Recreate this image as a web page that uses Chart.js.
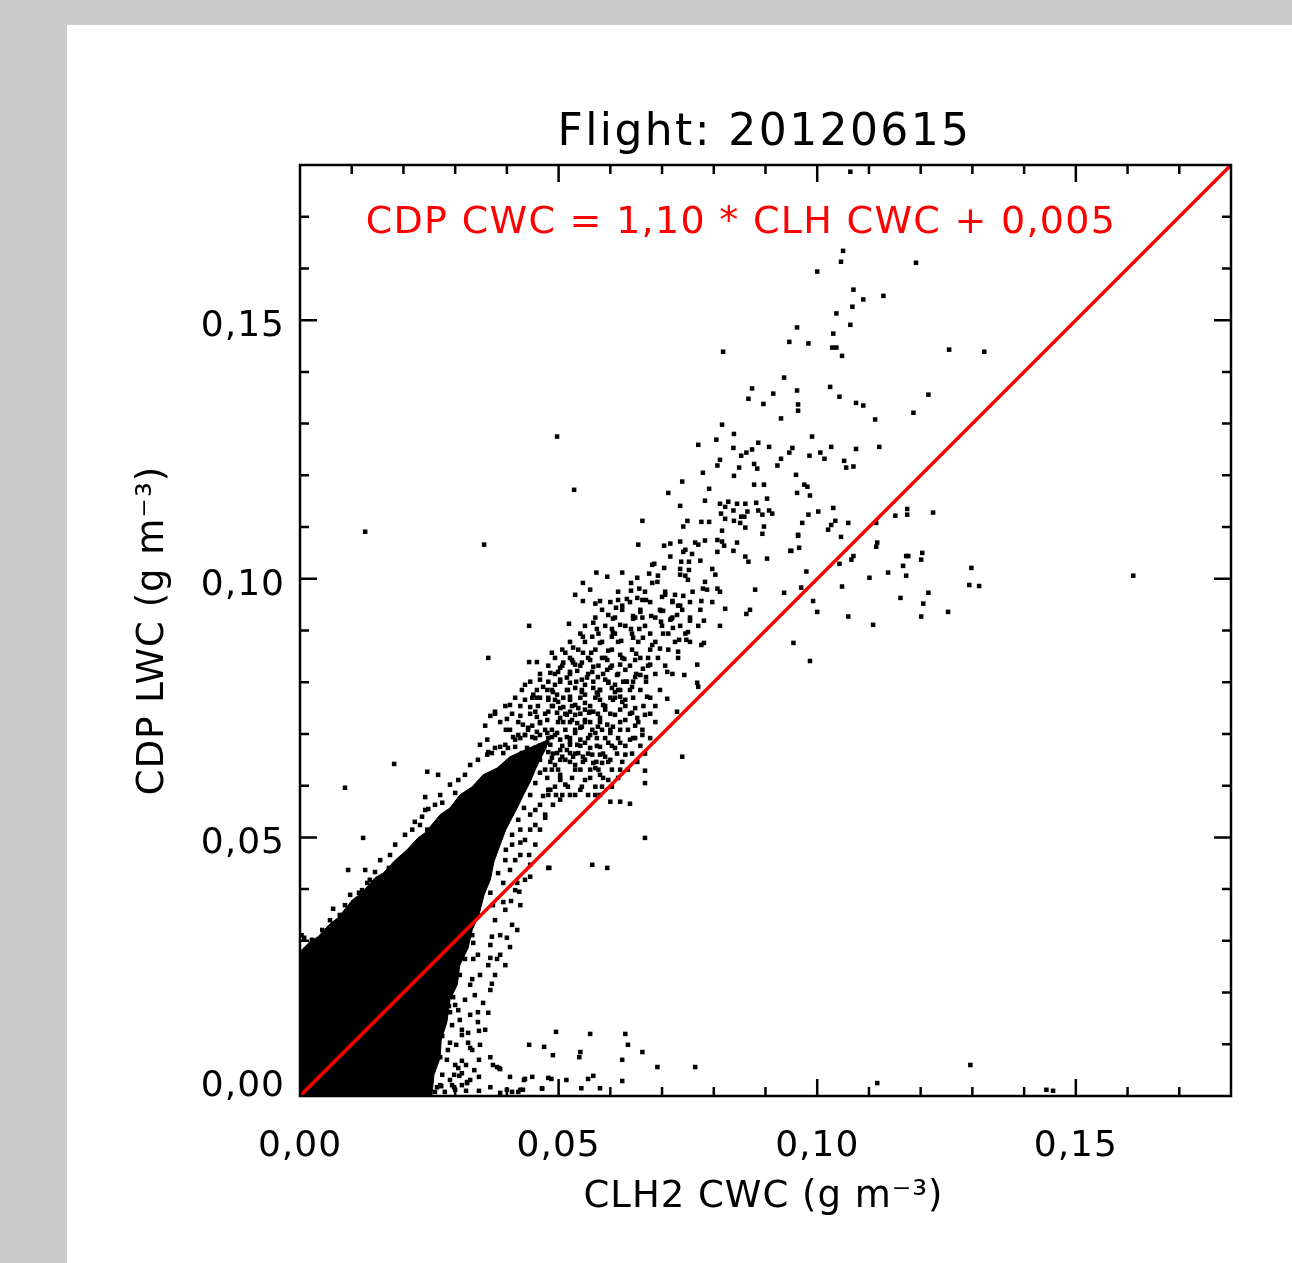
<!DOCTYPE html>
<html>
<head>
<meta charset="utf-8">
<title>Flight: 20120615</title>
<script src="https://cdn.jsdelivr.net/npm/chart.js@4.4.1/dist/chart.umd.min.js"></script>
<style>
  html, body { margin: 0; padding: 0; background: #cccccc; width: 1292px; height: 1263px; overflow: hidden; }
  #panel { position: absolute; left: 67px; top: 25px; width: 1225px; height: 1238px; background: #ffffff; }
  canvas { display: block; }
</style>
</head>
<body>
<div id="panel"><canvas id="cwcChart" width="1225" height="1238"></canvas></div>
<script>
const flightTitle = 'Flight: 20120615';
const xTitle = 'CLH2 CWC (g m\u207B\u00B3)';
const yTitle = 'CDP LWC (g m\u207B\u00B3)';
const fitText = 'CDP CWC = 1,10 * CLH CWC + 0,005';
const tickValues = [0, 0.05, 0.10, 0.15];
const tickLabels = ['0,00', '0,05', '0,10', '0,15'];

// 1:1 reference line
const oneToOne = [[0, 0], [0.18, 0.18]];

// the saturated core of the cloud near the origin, as a band between two edges
const coreUpper = [[0,0.0279],[0.0019,0.0298],[0.0035,0.0308],[0.0058,0.0333],[0.0073,0.0344],[0.0101,0.0379],
  [0.0120,0.0393],[0.0145,0.0422],[0.0161,0.0431],[0.0184,0.0456],[0.0207,0.0476],[0.0228,0.0499],[0.0242,0.0509],
  [0.0271,0.0544],[0.0290,0.0557],[0.0309,0.0582],[0.0333,0.0598],[0.0354,0.0621],[0.0381,0.0634],[0.0406,0.0656],
  [0.0435,0.0669],[0.0480,0.0689]];
const coreLower = [[0,0],[0.0255,0],[0.0259,0.0041],[0.0271,0.0074],[0.0273,0.0108],[0.0284,0.0143],[0.0290,0.0186],
  [0.0304,0.0215],[0.0309,0.0253],[0.0325,0.0286],[0.0333,0.0321],[0.0346,0.0350],[0.0356,0.0389],[0.0368,0.0418],
  [0.0375,0.0453],[0.0387,0.0486],[0.0398,0.0515],[0.0410,0.0538],[0.0422,0.0561],[0.0433,0.0584],[0.0445,0.0607],
  [0.0455,0.0631],[0.0464,0.0650],[0.0476,0.0673],[0.0480,0.0689]];

// individual samples [CLH2 CWC, CDP LWC]
const samples = [
  // upper branch
  [0.1050,0.1634],[0.1046,0.1613],[0.1000,0.1594],[0.1191,0.1611],[0.1070,0.1559],[0.1089,0.1540],[0.1128,0.1547],
  [0.1068,0.1526],[0.1037,0.1513],[0.1064,0.1491],[0.0961,0.1486],[0.1031,0.1474],[0.0946,0.1458],[0.0983,0.1455],
  [0.1029,0.1447],[0.1037,0.1447],[0.1048,0.1431],[0.0818,0.1439],[0.1255,0.1443],[0.1323,0.1439],[0.0936,0.1389],
  [0.0874,0.1368],[0.0867,0.1348],[0.0915,0.1358],[0.0896,0.1338],[0.0961,0.1364],[0.0963,0.1337],[0.0963,0.1325],
  [0.1025,0.1371],[0.1043,0.1352],[0.1075,0.1340],[0.1089,0.1335],[0.1215,0.1356],[0.1186,0.1321],[0.0930,0.1310],
  [0.1112,0.1308],[0.0816,0.1298],[0.1064,0.1787],
  [0.0839,0.1280],[0.0805,0.1269],[0.0770,0.1259],[0.0838,0.1253],[0.0886,0.1263],[0.0907,0.1255],[0.0874,0.1250],
  [0.0863,0.1244],[0.0853,0.1238],[0.0952,0.1253],[0.0946,0.1244],[0.0990,0.1275],[0.1006,0.1244],[0.1027,0.1255],
  [0.0985,0.1238],[0.1014,0.1232],[0.1075,0.1251],[0.1120,0.1255],[0.0812,0.1230],[0.0930,0.1232],[0.0923,0.1219],
  [0.0878,0.1222],[0.0884,0.1213],[0.0807,0.1219],[0.0849,0.1215],[0.1052,0.1228],[0.1056,0.1215],[0.1070,0.1217],
  [0.0779,0.1205],[0.0839,0.1199],[0.0959,0.1201],[0.0739,0.1188],[0.0878,0.1182],[0.0897,0.1182],[0.0975,0.1182],
  [0.0981,0.1178],[0.0791,0.1174],[0.0712,0.1166],[0.0961,0.1166],[0.0986,0.1161],[0.0903,0.1155],[0.0783,0.1151],
  [0.0882,0.1147],[0.0812,0.1145],[0.0822,0.1139],[0.0828,0.1149],[0.0845,0.1145],[0.0861,0.1145],[0.0735,0.1141],
  [0.0838,0.1132],[0.0865,0.1130],[0.0886,0.1132],[0.0894,0.1124],[0.0907,0.1132],[0.0913,0.1126],[0.0814,0.1126],
  [0.0822,0.1116],[0.0853,0.1120],[0.0859,0.1120],[0.1031,0.1137],[0.1002,0.1130],[0.0983,0.1124],[0.1151,0.1122],
  [0.1174,0.1135],[0.1174,0.1124],[0.1224,0.1128],[0.0662,0.1112],[0.0749,0.1112],[0.0776,0.1110],[0.0791,0.1110],
  [0.0839,0.1112],[0.0851,0.1108],[0.0741,0.1101],[0.0816,0.1093],[0.0861,0.1099],[0.0897,0.1101],[0.0894,0.1087],
  [0.0971,0.1108],[0.1035,0.1112],[0.1027,0.1104],[0.1021,0.1095],[0.1060,0.1108],[0.1046,0.1081],[0.1114,0.1108],
  [0.0963,0.1085],[0.0654,0.1066],[0.0704,0.1064],[0.0716,0.1068],[0.0735,0.1072],[0.0745,0.1056],[0.0741,0.1052],
  [0.0764,0.1070],[0.0770,0.1066],[0.0783,0.1074],[0.0807,0.1075],[0.0816,0.1072],[0.0820,0.1064],[0.0845,0.1070],
  [0.0807,0.1052],[0.0838,0.1054],[0.0758,0.1048],[0.0948,0.1054],[0.0965,0.1060],[0.0861,0.1043],[0.0867,0.1033],
  [0.0903,0.1039],[0.1116,0.1070],[0.1114,0.1062],[0.1070,0.1044],[0.1066,0.1037],[0.1043,0.1029],[0.0716,0.1043],
  [0.0774,0.1035],[0.0737,0.1033],[0.0752,0.1033],[0.0681,0.1027],[0.0685,0.1029],[0.0704,0.1021],[0.0735,0.1019],
  [0.0752,0.1017],[0.0797,0.1019],[0.0594,0.1004],[0.0623,0.1012],[0.0652,0.1002],[0.0675,0.1010],[0.0692,0.1006],
  [0.0735,0.1008],[0.0750,0.0998],[0.0745,0.1006],[0.0803,0.1008],[0.0681,0.0992],[0.0691,0.0994],[0.0783,0.0994],
  [0.0640,0.0992],[0.0979,0.1014],[0.1101,0.1002],[0.1137,0.1012],[0.1172,0.1044],[0.1176,0.1044],[0.1203,0.1050],
  [0.1201,0.1037],[0.1166,0.1025],[0.1172,0.1006],[0.0656,0.0981],[0.0640,0.0977],[0.0779,0.0981],[0.0787,0.0979],
  [0.0807,0.0981],[0.0880,0.0979],[0.0969,0.0983],[0.0936,0.0973],[0.1048,0.0985],[0.1215,0.0973],[0.1161,0.0963],
  [0.1205,0.0952],[0.0992,0.0957],[0.1000,0.0936],[0.1060,0.0927],[0.1108,0.0911],[0.1201,0.0927],[0.1253,0.0936],
  [0.0822,0.0942],[0.0863,0.0932],[0.0870,0.0940],[0.0812,0.0909],[0.0776,0.0957],[0.0580,0.0957],[0.0615,0.0959],
  [0.0632,0.0961],[0.0652,0.0963],[0.0662,0.0959],[0.0669,0.0959],[0.0700,0.0965],[0.0706,0.0969],[0.0725,0.0969],
  [0.0720,0.0957],[0.0741,0.0967],[0.0731,0.0948],[0.0735,0.0948],[0.0702,0.0938],[0.0698,0.0938],[0.0716,0.0921],
  [0.0718,0.0923],[0.0729,0.0930],[0.0754,0.0919],[0.0781,0.0919],[0.0721,0.0905],[0.0750,0.0897],[0.0702,0.0894],
  [0.0733,0.0882],[0.0747,0.0882],[0.0776,0.0872],[0.0781,0.0876],[0.0731,0.0859],[0.0768,0.0834],[0.0710,0.0820],
  [0.0743,0.0814],[0.0954,0.0876],[0.0986,0.0841],[0.0611,0.0944],[0.0623,0.0948],[0.0596,0.0930],[0.0605,0.0923],
  [0.0644,0.0928],[0.0644,0.0923],[0.0658,0.0936],[0.0662,0.0925],[0.0679,0.0928],[0.0698,0.0917],[0.0603,0.0903],
  [0.0619,0.0911],[0.0640,0.0903],[0.0656,0.0903],[0.0644,0.0886],[0.0663,0.0886],[0.0621,0.0880],[0.0603,0.0888],
  [0.0605,0.0896],[0.0681,0.0872],[0.0696,0.0865],[0.0673,0.0847],[0.0650,0.0855],[0.0627,0.0845],[0.0619,0.0834],
  [0.0594,0.0843],[0.0596,0.0861],[0.0580,0.0876],[0.0663,0.0826],[0.0648,0.0810],[0.0669,0.0810],[0.0594,0.0824],
  [0.0613,0.0814],
  [0.0963,0.1083],[0.0950,0.1054],[0.1294,0.0988],[0.1313,0.0986],[0.1298,0.1021],[0.1611,0.1006],
  // middle of the cloud
  [0.0547,0.0957],[0.0571,0.0952],[0.0567,0.0915],[0.0574,0.0903],[0.0520,0.0913],[0.0443,0.0909],[0.0547,0.0888],
  [0.0565,0.0888],[0.0528,0.0867],[0.0487,0.0857],[0.0513,0.0857],[0.0547,0.0857],[0.0563,0.0857],[0.0364,0.0847],
  [0.0443,0.0839],[0.0458,0.0839],[0.0509,0.0838],[0.0526,0.0843],[0.0528,0.0838],[0.0545,0.0838],[0.0567,0.0830],
  [0.0484,0.0818],[0.0499,0.0820],[0.0522,0.0820],[0.0536,0.0822],[0.0503,0.0805],[0.0516,0.0809],[0.0545,0.0805],
  [0.0555,0.0809],[0.0565,0.0820],[0.0576,0.0810],[0.0590,0.0805],[0.0596,0.0799],[0.0625,0.0801],[0.0632,0.0801],
  [0.0644,0.0801],[0.0768,0.0799],[0.0770,0.0791],[0.0470,0.0791],[0.0478,0.0785],[0.0489,0.0781],[0.0497,0.0776],
  [0.0516,0.0785],[0.0522,0.0772],[0.0532,0.0789],[0.0545,0.0781],[0.0551,0.0776],[0.0567,0.0789],[0.0574,0.0780],
  [0.0603,0.0789],[0.0609,0.0781],[0.0615,0.0785],[0.0619,0.0772],[0.0623,0.0762],[0.0605,0.0766],[0.0642,0.0791],
  [0.0671,0.0772],[0.0687,0.0754],[0.0710,0.0768],[0.0729,0.0743],[0.0652,0.0731],[0.0642,0.0741],[0.0619,0.0747],
  [0.0590,0.0747],[0.0580,0.0766],[0.0586,0.0756],[0.0451,0.0776],[0.0458,0.0770],[0.0445,0.0752],[0.0480,0.0766],
  [0.0489,0.0754],[0.0499,0.0762],[0.0509,0.0752],[0.0522,0.0743],[0.0532,0.0756],[0.0538,0.0750],[0.0551,0.0747],
  [0.0559,0.0741],[0.0567,0.0743],[0.0377,0.0743],[0.0368,0.0735],[0.0400,0.0729],[0.0458,0.0733],[0.0464,0.0721],
  [0.0478,0.0727],[0.0497,0.0741],[0.0503,0.0731],[0.0509,0.0723],[0.0516,0.0737],[0.0526,0.0727],[0.0536,0.0721],
  [0.0545,0.0714],[0.0551,0.0727],[0.0561,0.0723],[0.0576,0.0714],[0.0584,0.0708],[0.0594,0.0718],[0.0605,0.0714],
  [0.0648,0.0716],[0.0662,0.0698],[0.0644,0.0692],[0.0358,0.0716],[0.0398,0.0708],[0.0412,0.0694],[0.0422,0.0698],
  [0.0431,0.0718],[0.0441,0.0712],[0.0449,0.0716],[0.0435,0.0698],[0.0449,0.0694],[0.0458,0.0704],[0.0464,0.0698],
  [0.0478,0.0702],[0.0487,0.0694],[0.0497,0.0702],[0.0503,0.0689],[0.0516,0.0694],[0.0522,0.0685],[0.0532,0.0702],
  [0.0536,0.0679],[0.0542,0.0689],[0.0551,0.0683],[0.0561,0.0698],[0.0574,0.0692],[0.0580,0.0675],[0.0596,0.0683],
  [0.0619,0.0683],[0.0348,0.0679],[0.0362,0.0689],[0.0362,0.0660],[0.0371,0.0663],[0.0387,0.0675],[0.0393,0.0663],
  [0.0402,0.0673],[0.0416,0.0675],[0.0420,0.0656],[0.0429,0.0663],[0.0439,0.0673],[0.0445,0.0656],[0.0455,0.0673],
  [0.0460,0.0656],[0.0468,0.0669],[0.0478,0.0683],[0.0480,0.0665],[0.0487,0.0654],[0.0497,0.0663],[0.0507,0.0656],
  [0.0516,0.0669],[0.0522,0.0663],[0.0528,0.0656],[0.0538,0.0663],[0.0547,0.0656],[0.0565,0.0660],[0.0567,0.0644],
  [0.0584,0.0644],[0.0590,0.0656],[0.0613,0.0662],[0.0739,0.0656],[0.0667,0.0629],[0.0667,0.0605],[0.0584,0.0598],
  [0.0600,0.0569],[0.0619,0.0569],[0.0638,0.0565],[0.0667,0.0499],[0.0565,0.0447],[0.0594,0.0441],[0.0480,0.0441],
  [0.0445,0.0424],[0.0246,0.0627],[0.0267,0.0621],[0.0300,0.0586],[0.0304,0.0567],[0.0242,0.0578],[0.0275,0.0567],
  [0.0248,0.0555],[0.0236,0.0540],[0.0277,0.0528],[0.0222,0.0530],[0.0246,0.0515],[0.0257,0.0515],
  [0.0487,0.0631],[0.0503,0.0621],[0.0513,0.0602],[0.0532,0.0631],[0.0551,0.0611],[0.0480,0.0592],[0.0495,0.0582],
  [0.0522,0.0582],[0.0464,0.0563],[0.0445,0.0544],[0.0426,0.0515],[0.0435,0.0495],[0.0455,0.0524],[0.0561,0.0631],
  [0.0542,0.0592],[0.0410,0.0486],[0.0397,0.0456],[0.0474,0.0538],[0.0503,0.0573],[0.0571,0.0582],[0.0596,0.0611],
  [0.0619,0.0631],[0.0503,0.0650],[0.0580,0.0621],
  [0.0464,0.0650],[0.0493,0.0640],[0.0513,0.0650],[0.0532,0.0640],[0.0551,0.0650],[0.0571,0.0634],[0.0484,0.0679],
  [0.0503,0.0669],[0.0522,0.0679],[0.0561,0.0673],[0.0580,0.0660],[0.0600,0.0650],[0.0609,0.0673],[0.0629,0.0660],
  [0.0638,0.0689],[0.0474,0.0708],[0.0493,0.0698],[0.0513,0.0708],[0.0542,0.0712],[0.0571,0.0702],[0.0600,0.0702],
  [0.0619,0.0708],[0.0629,0.0727],[0.0609,0.0737],[0.0580,0.0731],[0.0561,0.0743],[0.0532,0.0737],[0.0503,0.0750],
  [0.0480,0.0743],[0.0455,0.0743],[0.0426,0.0735],[0.0406,0.0756],[0.0435,0.0766],[0.0464,0.0770],[0.0493,0.0766],
  [0.0522,0.0766],[0.0551,0.0760],[0.0576,0.0776],[0.0600,0.0770],[0.0629,0.0766],[0.0648,0.0750],[0.0667,0.0737],
  [0.0638,0.0785],[0.0609,0.0795],[0.0580,0.0785],[0.0551,0.0795],[0.0522,0.0799],[0.0493,0.0795],[0.0464,0.0805],
  [0.0435,0.0795],[0.0503,0.0828],[0.0532,0.0834],[0.0561,0.0843],[0.0590,0.0847],[0.0619,0.0853],[0.0648,0.0843],
  [0.0677,0.0834],[0.0658,0.0814],[0.0629,0.0824],[0.0600,0.0828],
  // dense mottled band above the core
  [0.0480,0.0582],[0.0507,0.0582],[0.0532,0.0582],[0.0557,0.0582],[0.0580,0.0582],
  [0.0493,0.0598],[0.0518,0.0598],[0.0545,0.0598],[0.0571,0.0598],[0.0603,0.0598],
  [0.0478,0.0615],[0.0503,0.0615],[0.0526,0.0615],[0.0561,0.0615],[0.0586,0.0615],[0.0615,0.0615],
  [0.0474,0.0631],[0.0499,0.0631],[0.0542,0.0631],[0.0577,0.0631],[0.0603,0.0631],[0.0634,0.0631],
  [0.0484,0.0646],[0.0522,0.0646],[0.0547,0.0646],[0.0573,0.0646],[0.0596,0.0646],[0.0623,0.0646],[0.0652,0.0646],
  [0.0489,0.0662],[0.0532,0.0662],[0.0557,0.0662],[0.0586,0.0662],[0.0642,0.0662],[0.0667,0.0662],
  [0.0464,0.0677],[0.0507,0.0677],[0.0542,0.0677],[0.0574,0.0677],[0.0603,0.0677],[0.0629,0.0677],[0.0658,0.0677],
  [0.0426,0.0692],[0.0455,0.0692],[0.0480,0.0692],[0.0522,0.0692],[0.0557,0.0692],[0.0590,0.0692],[0.0615,0.0692],
  [0.0648,0.0692],[0.0677,0.0692],
  [0.0406,0.0708],[0.0441,0.0708],[0.0487,0.0708],[0.0532,0.0708],[0.0565,0.0708],[0.0600,0.0708],[0.0634,0.0708],
  [0.0662,0.0708],
  [0.0387,0.0723],[0.0422,0.0723],[0.0464,0.0723],[0.0499,0.0723],[0.0522,0.0723],[0.0551,0.0723],[0.0580,0.0723],
  [0.0619,0.0723],[0.0654,0.0723],[0.0687,0.0723],
  [0.0377,0.0739],[0.0410,0.0739],[0.0445,0.0739],[0.0474,0.0739],[0.0513,0.0739],[0.0542,0.0739],[0.0576,0.0739],
  [0.0600,0.0739],[0.0638,0.0739],[0.0677,0.0739],
  [0.0397,0.0754],[0.0426,0.0754],[0.0460,0.0754],[0.0487,0.0754],[0.0526,0.0754],[0.0561,0.0754],[0.0590,0.0754],
  [0.0629,0.0754],[0.0664,0.0754],
  [0.0416,0.0770],[0.0449,0.0770],[0.0480,0.0770],[0.0509,0.0770],[0.0542,0.0770],[0.0571,0.0770],[0.0609,0.0770],
  [0.0644,0.0770],[0.0677,0.0770],
  [0.0429,0.0785],[0.0458,0.0785],[0.0487,0.0785],[0.0518,0.0785],[0.0545,0.0785],[0.0580,0.0785],[0.0619,0.0785],
  [0.0658,0.0785],[0.0696,0.0785],
  [0.0445,0.0801],[0.0480,0.0801],[0.0503,0.0801],[0.0534,0.0801],[0.0567,0.0801],[0.0596,0.0801],[0.0631,0.0801],
  [0.0669,0.0801],
  [0.0464,0.0816],[0.0493,0.0816],[0.0522,0.0816],[0.0557,0.0816],[0.0586,0.0816],[0.0615,0.0816],[0.0650,0.0816],
  [0.0687,0.0816],[0.0720,0.0816],
  [0.0480,0.0832],[0.0507,0.0832],[0.0542,0.0832],[0.0577,0.0832],[0.0603,0.0832],[0.0638,0.0832],[0.0673,0.0832],
  [0.0706,0.0832],
  [0.0493,0.0847],[0.0522,0.0847],[0.0557,0.0847],[0.0584,0.0847],[0.0623,0.0847],[0.0658,0.0847],[0.0692,0.0847],
  [0.0731,0.0847],
  [0.0507,0.0863],[0.0538,0.0863],[0.0571,0.0863],[0.0603,0.0863],[0.0642,0.0863],[0.0677,0.0863],[0.0712,0.0863],
  [0.0522,0.0878],[0.0551,0.0878],[0.0584,0.0878],[0.0615,0.0878],[0.0654,0.0878],[0.0687,0.0878],[0.0725,0.0878],
  [0.0754,0.0878],
  [0.0542,0.0894],[0.0577,0.0894],[0.0609,0.0894],[0.0642,0.0894],[0.0677,0.0894],[0.0712,0.0894],[0.0745,0.0894],
  [0.0551,0.0909],[0.0590,0.0909],[0.0629,0.0909],[0.0667,0.0909],[0.0700,0.0909],[0.0735,0.0909],[0.0770,0.0909],
  [0.0571,0.0925],[0.0609,0.0925],[0.0648,0.0925],[0.0687,0.0925],[0.0720,0.0925],[0.0754,0.0925],
  [0.0584,0.0940],[0.0623,0.0940],[0.0658,0.0940],[0.0696,0.0940],[0.0739,0.0940],[0.0774,0.0940],
  [0.0600,0.0955],[0.0638,0.0955],[0.0677,0.0955],[0.0720,0.0955],[0.0754,0.0955],[0.0797,0.0955],
  [0.0615,0.0975],[0.0667,0.0975],[0.0706,0.0975],[0.0759,0.0975],[0.0812,0.0975],
  // lower edge of the core
  [0.0443,0.0466],[0.0482,0.0441],[0.0383,0.0431],[0.0424,0.0395],[0.0408,0.0377],[0.0393,0.0375],[0.0368,0.0393],
  [0.0373,0.0369],[0.0393,0.0412],[0.0420,0.0412],[0.0342,0.0402],[0.0333,0.0377],[0.0315,0.0393],[0.0420,0.0321],
  [0.0371,0.0308],[0.0400,0.0306],[0.0406,0.0288],[0.0335,0.0296],[0.0323,0.0315],[0.0333,0.0311],[0.0315,0.0286],
  [0.0368,0.0267],[0.0381,0.0265],[0.0335,0.0265],[0.0319,0.0265],[0.0333,0.0226],[0.0309,0.0234],[0.0371,0.0217],
  [0.0290,0.0199],[0.0296,0.0191],[0.0284,0.0191],[0.0277,0.0211],[0.0250,0.0201],[0.0265,0.0180],[0.0277,0.0191],
  [0.0288,0.0174],[0.0364,0.0161],[0.0257,0.0166],[0.0248,0.0124],[0.0275,0.0116],[0.0325,0.0122],[0.0346,0.0126],
  [0.0226,0.0133],[0.0242,0.0103],[0.0257,0.0099],[0.0290,0.0103],[0.0325,0.0103],[0.0226,0.0081],[0.0265,0.0079],
  [0.0284,0.0070],[0.0313,0.0068],[0.0346,0.0070],[0.0381,0.0056],[0.0406,0.0037],[0.0435,0.0033],[0.0449,0.0037],
  [0.0480,0.0035],[0.0368,0.0075],[0.0385,0.0054],[0.0323,0.0027],[0.0290,0.0031],[0.0246,0.0044],[0.0265,0.0017],
  [0.0213,0.0031],[0.0368,0.0017],[0.0400,0.0012],[0.0426,0.0012],[0.0431,0.0012],[0.0468,0.0015],
  [0.0300,0.0012],[0.0313,0.0021],[0.0329,0.0031],[0.0306,0.0054],[0.0321,0.0060],[0.0337,0.0050],[0.0286,0.0089],
  [0.0302,0.0099],[0.0313,0.0118],[0.0333,0.0089],[0.0348,0.0099],[0.0294,0.0137],[0.0309,0.0147],[0.0329,0.0157],
  [0.0344,0.0143],[0.0358,0.0128],[0.0300,0.0176],[0.0319,0.0186],[0.0338,0.0195],[0.0354,0.0180],[0.0368,0.0205],
  [0.0329,0.0215],[0.0348,0.0234],[0.0364,0.0253],[0.0377,0.0234],[0.0387,0.0273],[0.0397,0.0253],[0.0344,0.0273],
  [0.0368,0.0292],[0.0387,0.0311],[0.0410,0.0331],[0.0377,0.0340],[0.0397,0.0360],[0.0426,0.0369],[0.0416,0.0398],
  [0.0435,0.0418],[0.0406,0.0437],[0.0445,0.0447],[0.0426,0.0466],[0.0455,0.0486],[0.0464,0.0515],[0.0474,0.0544],
  [0.0489,0.0563],[0.0484,0.0592],[0.0503,0.0611],
  [0.0398,0.0476],[0.0410,0.0505],[0.0422,0.0534],[0.0433,0.0557],[0.0445,0.0582],[0.0455,0.0605],[0.0464,0.0625],
  [0.0416,0.0456],[0.0426,0.0490],[0.0445,0.0515],[0.0455,0.0553],[0.0470,0.0580],
  [0.0242,0.0008],[0.0261,0.0008],[0.0280,0.0008],[0.0248,0.0021],[0.0271,0.0021],[0.0294,0.0021],[0.0251,0.0041],
  [0.0275,0.0041],[0.0255,0.0060],[0.0300,0.0060],[0.0267,0.0093],[0.0329,0.0093],[0.0271,0.0128],[0.0313,0.0128],
  [0.0290,0.0162],[0.0344,0.0162],
  // CDP near zero
  [0.0306,0.0166],[0.0495,0.0124],[0.0561,0.0120],[0.0629,0.0120],[0.0240,0.0101],[0.0443,0.0099],[0.0472,0.0095],
  [0.0489,0.0079],[0.0542,0.0085],[0.0540,0.0075],[0.0634,0.0099],[0.0662,0.0085],[0.0623,0.0070],[0.0691,0.0056],
  [0.0764,0.0056],[0.1296,0.0060],[0.0271,0.0075],[0.0308,0.0039],[0.0346,0.0037],[0.0387,0.0052],[0.0313,0.0044],
  [0.0298,0.0041],[0.0433,0.0031],[0.0486,0.0033],[0.0515,0.0031],[0.0557,0.0033],[0.0567,0.0039],[0.0544,0.0015],
  [0.0580,0.0015],[0.0623,0.0029],[0.0468,0.0014],[0.0422,0.0008],[0.0410,0.0008],[0.0387,0.0006],[0.0346,0.0010],
  [0.0321,0.0010],[0.0298,0.0017],[0.0273,0.0019],[0.1116,0.0025],[0.1443,0.0012],[0.1456,0.0010],[0.0323,0.0025],
  [0.0373,0.0060],
  // upper edge of the core
  [0.0093,0.0437],[0.0064,0.0362],[0.0104,0.0346],[0.0114,0.0393],[0.0103,0.0373],[0.0130,0.0412],[0.0145,0.0433],
  [0.0172,0.0441],[0.0172,0.0426],[0.0193,0.0453],[0.0077,0.0306],[0.0066,0.0298],[0.0008,0.0306],[0.0025,0.0279],
  [0.0027,0.0263],[0.0006,0.0238],[0.0023,0.0250],[0.0043,0.0232],[0.0054,0.0267],
  [0.0010,0.0282],[0.0023,0.0302],[0.0043,0.0321],[0.0003,0.0311],[0.0058,0.0340],[0.0077,0.0350],[0.0087,0.0369],
  [0.0097,0.0389],[0.0120,0.0398],[0.0135,0.0418],[0.0126,0.0437],[0.0155,0.0456],[0.0174,0.0466],[0.0184,0.0486],
  [0.0203,0.0505],[0.0217,0.0515],[0.0232,0.0524],[0.0242,0.0553],[0.0261,0.0563],[0.0271,0.0582],[0.0290,0.0602],
  [0.0306,0.0611],[0.0319,0.0621],[0.0329,0.0640],[0.0344,0.0650],[0.0364,0.0665],[0.0377,0.0673],[0.0397,0.0679],
  [0.0416,0.0689],[0.0435,0.0698],
  // isolated
  [0.0087,0.0596],[0.0182,0.0642],[0.0122,0.0499],[0.0126,0.1091],[0.0356,0.1066],[0.0497,0.1275],[0.0530,0.1172],
  [0.0532,0.0969],[0.0547,0.0992],[0.0573,0.1012],[0.0561,0.0979]
];

const toXY = pts => pts.map(([x, y]) => ({x, y}));
const FONT = '"DejaVu Sans", sans-serif';

// box with inward ticks on all four sides, tick labels and titles
const idlFrame = {
  id: 'idlFrame',
  afterDatasetsDraw(chart) {
    const {ctx, chartArea: a, scales: {x, y}} = chart;
    ctx.save();
    ctx.strokeStyle = '#000';
    ctx.lineWidth = 2.5;
    ctx.beginPath();
    for (let i = 1; i < 18; i++) {
      const len = i % 5 === 0 ? 17 : 9;
      const px = x.getPixelForValue(i / 100);
      const py = y.getPixelForValue(i / 100);
      ctx.moveTo(px, a.bottom); ctx.lineTo(px, a.bottom - len);
      ctx.moveTo(px, a.top); ctx.lineTo(px, a.top + len);
      ctx.moveTo(a.left, py); ctx.lineTo(a.left + len, py);
      ctx.moveTo(a.right, py); ctx.lineTo(a.right - len, py);
    }
    ctx.stroke();
    ctx.strokeRect(a.left, a.top, a.right - a.left, a.bottom - a.top);

    ctx.fillStyle = '#000';
    ctx.textBaseline = 'alphabetic';
    ctx.font = `36px ${FONT}`;
    ctx.letterSpacing = '1px';
    ctx.textAlign = 'center';
    tickValues.forEach((v, i) => ctx.fillText(tickLabels[i], x.getPixelForValue(v), a.bottom + 60));
    ctx.textAlign = 'right';
    tickValues.forEach((v, i) => {
      const py = y.getPixelForValue(v);
      ctx.fillText(tickLabels[i], a.left - 15, v === 0 ? py : py + 16);
    });

    const cx = (a.left + a.right) / 2;
    ctx.textAlign = 'center';
    ctx.font = `44px ${FONT}`;
    ctx.letterSpacing = '2.4px';
    ctx.fillText(flightTitle, cx - 1, a.top - 20);

    ctx.font = `37px ${FONT}`;
    ctx.letterSpacing = '1px';
    ctx.fillText(xTitle, cx - 2, a.bottom + 111);

    ctx.save();
    ctx.translate(a.left - 137, (a.top + a.bottom) / 2);
    ctx.rotate(-Math.PI / 2);
    ctx.fillText(yTitle, 0, 0);
    ctx.restore();

    ctx.fillStyle = '#ff0000';
    ctx.font = `38px ${FONT}`;
    ctx.letterSpacing = '1.3px';
    ctx.fillText(fitText, a.left + 441, a.top + 68);
    ctx.restore();
  }
};

new Chart(document.getElementById('cwcChart'), {
  type: 'scatter',
  data: {
    datasets: [
      {
        type: 'line',
        data: toXY(coreLower),
        borderColor: '#000',
        borderWidth: 1,
        pointRadius: 0,
        fill: false,
        tension: 0,
        order: 2
      },
      {
        type: 'line',
        data: toXY(coreUpper),
        borderColor: '#000',
        borderWidth: 1,
        backgroundColor: '#000',
        pointRadius: 0,
        fill: '-1',
        tension: 0,
        order: 2
      },
      {
        data: toXY(samples),
        pointStyle: 'rect',
        pointRadius: 3.2,
        pointBorderWidth: 0,
        pointBackgroundColor: '#000',
        order: 1
      },
      {
        type: 'line',
        data: toXY(oneToOne),
        borderColor: '#ff0000',
        borderWidth: 3.5,
        pointRadius: 0,
        fill: false,
        order: 0
      }
    ]
  },
  options: {
    responsive: false,
    animation: false,
    events: [],
    layout: {padding: {left: 233, top: 140, right: 61, bottom: 167}},
    scales: {
      x: {type: 'linear', min: 0, max: 0.18, display: false},
      y: {type: 'linear', min: 0, max: 0.18, display: false}
    },
    plugins: {
      legend: {display: false},
      tooltip: {enabled: false}
    }
  },
  plugins: [idlFrame]
});
</script>
</body>
</html>
